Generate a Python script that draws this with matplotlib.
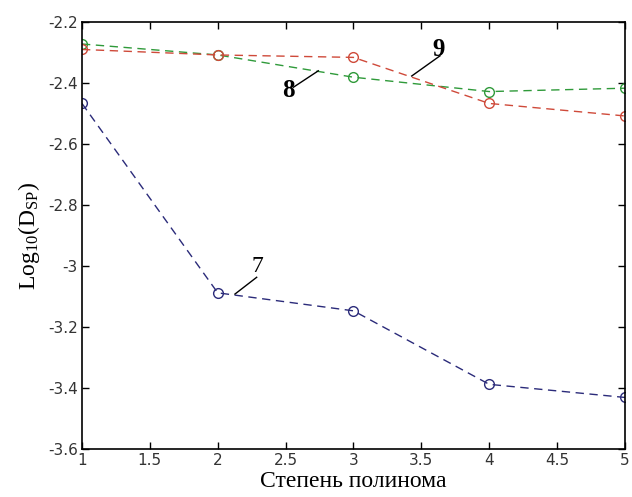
import matplotlib.pyplot as plt
from matplotlib.ticker import FuncFormatter

plt.rcParams['mathtext.fontset'] = 'custom'
plt.rcParams['mathtext.rm'] = 'Liberation Serif'

degree = [1, 2, 3, 4, 5]
curve7 = [-2.467, -3.088, -3.147, -3.388, -3.431]
curve8 = [-2.272, -2.308, -2.381, -2.428, -2.417]
curve9 = [-2.290, -2.308, -2.316, -2.467, -2.508]

# label, text position, leader line (from, to), bold
labels = [
    ('7', (2.29, -3.00), (2.287, -3.037), (2.127, -3.092), 'normal'),
    ('8', (2.52, -2.425), (2.557, -2.414), (2.741, -2.360), 'bold'),
    ('9', (3.625, -2.290), (3.637, -2.311), (3.429, -2.377), 'bold'),
]

fig = plt.figure(figsize=(6.32, 4.97), dpi=100)
ax = fig.add_axes([0.1297, 0.0966, 0.8592, 0.8591])

style = dict(linestyle=(0, (6, 4)), linewidth=1.0, marker='o', markersize=7,
             markerfacecolor='none', markeredgewidth=1.0)
ax.plot(degree, curve7, color='#2b2b7a', **style)
ax.plot(degree, curve8, color='#2f9a3a', **style)
ax.plot(degree, curve9, color='#cf4a3a', **style)

for text, pos, p0, p1, weight in labels:
    ax.plot([p0[0], p1[0]], [p0[1], p1[1]], color='black', linewidth=1.0)
    ax.text(pos[0], pos[1], text, fontsize=18 if weight == 'bold' else 17,
            fontweight=weight, family='Liberation Serif', ha='center', va='center')

ax.set_xlim(1, 5)
ax.set_ylim(-3.6, -2.2)
ax.set_xticks([1, 1.5, 2, 2.5, 3, 3.5, 4, 4.5, 5])
ax.set_yticks([-3.6, -3.4, -3.2, -3.0, -2.8, -2.6, -2.4, -2.2])
fmt = FuncFormatter(lambda v, p: '%g' % v)
ax.xaxis.set_major_formatter(fmt)
ax.yaxis.set_major_formatter(fmt)
ax.tick_params(direction='in', top=True, right=True, length=5, width=1,
               labelsize=11, labelcolor='#333333', pad=3)
for s in ax.spines.values():
    s.set_linewidth(1.2)

ax.set_xlabel('Степень полинома', family='Liberation Serif', fontsize=17, labelpad=2)
ax.set_ylabel(r'$\mathrm{Log_{10}(D_{SP})}$', fontsize=17, labelpad=4)

fig.savefig('out.png', dpi=100)
